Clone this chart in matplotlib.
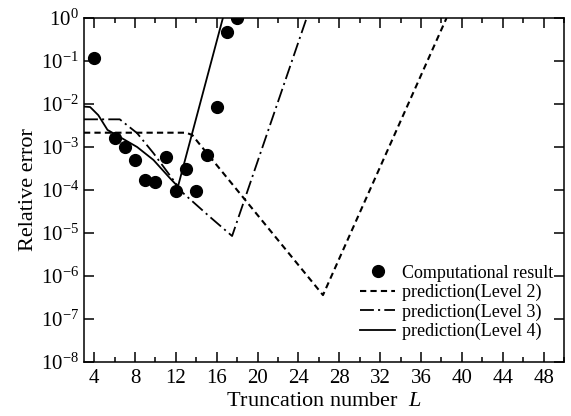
import matplotlib.pyplot as plt
from matplotlib.ticker import MultipleLocator, FixedLocator, NullLocator

# computational result
L_comp = [4, 6, 7, 8, 9, 10, 11, 12, 13, 14, 15, 16, 17, 18]
err_comp = [1.2e-1, 1.58e-3, 1.02e-3, 5.0e-4, 1.7e-4, 1.55e-4, 5.75e-4,
            9.5e-5, 3.0e-4, 9.5e-5, 6.5e-4, 8.3e-3, 4.8e-1, 0.98]

# predictions
L_lv2 = [3, 13.0, 13.6, 14.2, 26.4, 38.5]
err_lv2 = [2.15e-3, 2.15e-3, 1.9e-3, 1.26e-3, 3.6e-7, 1.0]

L_lv3 = [3, 6.5, 8.2, 9.8, 11.4, 12.7, 15.3, 17.5, 24.8]
err_lv3 = [4.4e-3, 4.4e-3, 2.1e-3, 7.2e-4, 2.2e-4, 8.5e-5, 2.4e-5, 8.5e-6, 1.0]

L_lv4 = [3, 3.6, 4.4, 5.3, 8.2, 9.8, 11.4, 12.2, 16.6]
err_lv4 = [8.7e-3, 8.5e-3, 5.5e-3, 2.5e-3, 1.0e-3, 5.0e-4, 1.9e-4, 1.2e-4, 1.0]

plt.rcParams['font.family'] = ['Liberation Serif', 'DejaVu Serif']
plt.rcParams['mathtext.fontset'] = 'custom'
plt.rcParams['mathtext.rm'] = 'Liberation Serif'
plt.rcParams['mathtext.it'] = 'Liberation Serif:italic'
plt.rcParams['axes.unicode_minus'] = False
plt.rcParams['lines.scale_dashes'] = False

fig = plt.figure(figsize=(5.71, 4.16), dpi=100)
ax = fig.add_axes([84/571, 1-362/416, 480/571, 344/416])

ax.plot(L_comp, err_comp, 'o', color='k', markersize=8.5, label='Computational result')
ax.plot(L_lv2, err_lv2, color='k', lw=1.5, linestyle=(0, (4.5, 3)), label='prediction(Level 2)')
ax.plot(L_lv3, err_lv3, color='k', lw=1.3, linestyle=(0, (10, 3, 1.5, 3)), label='prediction(Level 3)')
ax.plot(L_lv4, err_lv4, color='k', lw=1.3, label='prediction(Level 4)')

ax.set_yscale('log')
ax.set_xlim(3, 50)
ax.set_ylim(1e-8, 1e0)
ax.xaxis.set_major_locator(FixedLocator(range(4, 49, 4)))
ax.xaxis.set_minor_locator(MultipleLocator(2))
ax.yaxis.set_major_locator(FixedLocator([10.0**k for k in range(-8, 1)]))
ax.yaxis.set_minor_locator(NullLocator())
ax.tick_params(which='both', direction='in', top=True, right=True, width=1.1)
ax.tick_params(which='major', length=7, labelsize=15)
ax.tick_params(which='minor', length=3.5)
ax.tick_params(axis='x', which='both', top=True, labeltop=False, pad=5)
for s in ax.spines.values():
    s.set_linewidth(1.1)

ax.set_xlabel('Truncation number  $\\mathit{L}$', fontsize=16, labelpad=3)
ax.set_ylabel('Relative error', fontsize=16, labelpad=2)

ax.legend(loc='lower right', bbox_to_anchor=(1.0, 0.032), frameon=False, fontsize=13,
          handlelength=1.9, handletextpad=0.4, labelspacing=0.12, borderaxespad=0.2)

fig.savefig('out.png', dpi=100)
